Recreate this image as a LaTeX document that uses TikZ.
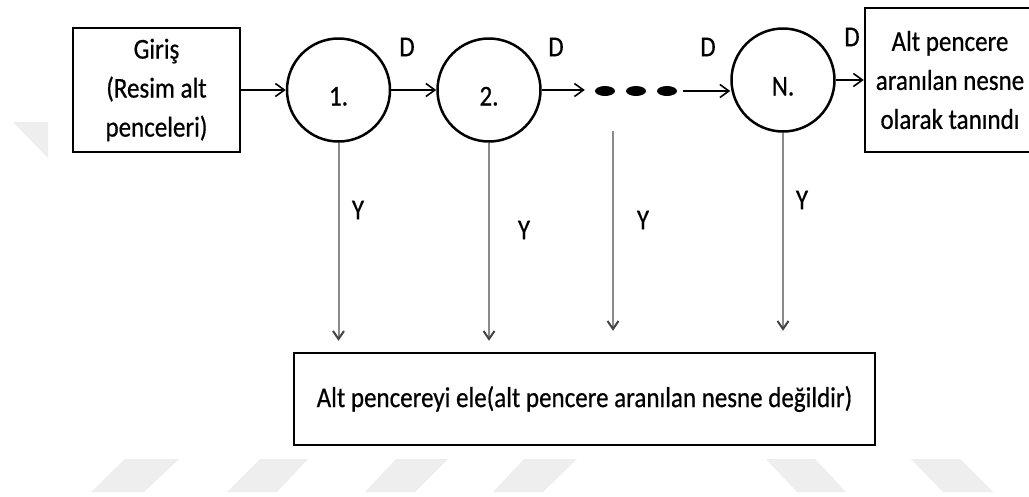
\documentclass[tikz,border=0pt]{standalone}
\usepackage{graphicx}
\usepackage{fontspec}
\setmainfont{Carlito}[FakeBold=0.6]
\usetikzlibrary{arrows.meta,shapes.geometric}
\definecolor{wm}{HTML}{EEEEEE}
\definecolor{vline}{HTML}{8A8A8A}
\definecolor{vtip}{HTML}{444444}
\newcommand{\tx}[1]{\scalebox{1}[1.15]{#1}}
\tikzset{
  box/.style={draw=black, line width=2.5pt, fill=white, align=center, inner sep=0pt},
  circ/.style={draw=black, line width=2.5pt, circle, minimum size=103pt, inner sep=0pt, text height=31pt, text depth=0pt},
  dotn/.style={fill=black, ellipse, minimum width=20pt, minimum height=10pt, inner sep=0pt},
  harrow/.style={draw=black, line width=1.6pt, -{Straight Barb[length=9pt,width=13pt,line width=1.6pt]}},
  varrow/.style={draw=vline, line width=2pt, -{Straight Barb[length=8pt,width=11pt,line width=2pt,color=vtip]}},
  lbl/.style={inner sep=0pt},
  wmark/.style={fill=wm, draw=none}
}
\begin{document}
\begin{tikzpicture}[x=1pt,y=-1pt,font=\fontsize{25}{39}\selectfont]
\useasboundingbox (0,0) rectangle (1029,496);
\clip (0,0) rectangle (1029,496);
\fill[white] (0,0) rectangle (1029,496);
% watermark shapes
\fill[wmark] (13,122) -- (48,122) -- (48,158) -- cycle;
\fill[wmark] (91,492) -- (144,492) -- (179,459) -- (125,459) -- cycle;
\fill[wmark] (227,492) -- (277,492) -- (308,459) -- (260,459) -- cycle;
\fill[wmark] (365,492) -- (415,492) -- (448,459) -- (396,459) -- cycle;
\fill[wmark] (493,492) -- (543,492) -- (577,459) -- (524,459) -- cycle;
\fill[wmark] (766,459) -- (815,459) -- (846,492) -- (797,492) -- cycle;
\fill[wmark] (911,459) -- (960,459) -- (993,492) -- (943,492) -- cycle;
% nodes
\node[box, minimum width=167pt, minimum height=124pt] (in) at (156.5,90) {\tx{Giriş}\\\tx{(Resim alt}\\\tx{penceleri)}};
\node[circ] (c1) at (338.5,90) {\tx{1.}};
\node[circ] (c2) at (489,90) {\tx{2.}};
\node[dotn] (d1) at (605,91) {};
\node[dotn] (d2) at (636,91) {};
\node[dotn] (d3) at (667,91) {};
\node[circ] (cn) at (783,80) {\tx{N.}};
\node[box, minimum width=170pt, minimum height=144pt] (out) at (950,80) {\tx{Alt pencere}\\\tx{aranılan nesne}\\\tx{olarak tanındı}};
\node[box, minimum width=581pt, minimum height=92pt] (bot) at (584.5,399) {\tx{Alt pencereyi ele(alt pencere aranılan nesne değildir)}};
% horizontal arrows
\draw[harrow] (in) -- (c1);
\draw[harrow] (c1) -- (c2);
\draw[harrow, shorten >=10pt] (c2.east) -- (c2.east -| d1.west);
\draw[harrow, shorten <=6pt] (d3.east) -- (d3.east -| cn.west);
\draw[harrow] (cn) -- (out);
% vertical arrows
\coordinate (t3) at (613,131);
\draw[varrow, shorten >=11pt] (c1.south) -- (c1.south |- bot.north);
\draw[varrow, shorten >=11pt] (c2.south) -- (c2.south |- bot.north);
\draw[varrow, shorten >=21pt] (t3) -- (t3 |- bot.north);
\draw[varrow, shorten >=21pt] (cn.south) -- (cn.south |- bot.north);
% labels
\node[lbl] (dl1) at (407,47) {\tx{D}};
\node[lbl] (dl2) at (556,47) {\tx{D}};
\node[lbl] (dl3) at (708,47) {\tx{D}};
\node[lbl] (dl4) at (852,37) {\tx{D}};
\node[lbl] (yl1) at (358,210) {\tx{Y}};
\node[lbl] (yl2) at (524,230) {\tx{Y}};
\node[lbl] (yl3) at (643,220) {\tx{Y}};
\node[lbl] (yl4) at (802,200) {\tx{Y}};
\end{tikzpicture}
\end{document}
